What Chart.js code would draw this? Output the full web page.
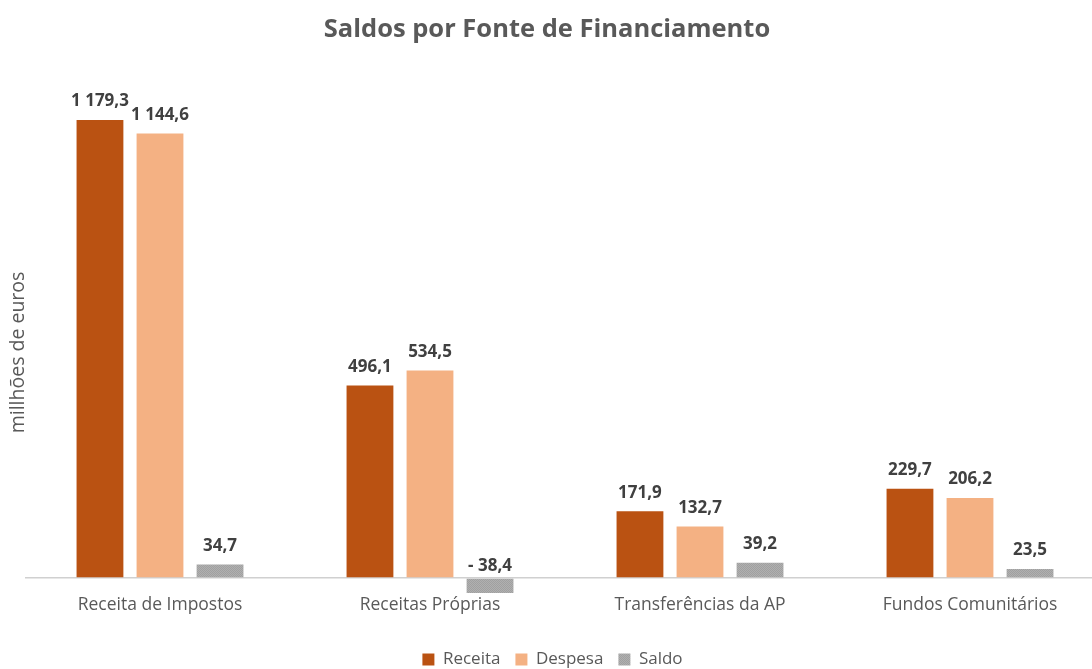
<!DOCTYPE html>
<html>
<head>
<meta charset="utf-8">
<script src="https://cdn.jsdelivr.net/npm/chart.js@4"></script>
<style>
  html, body { margin: 0; padding: 0; background: #fff; }
  #wrap { position: relative; width: 1092px; height: 669px; overflow: hidden; }
  #title {
    position: absolute; left: 0; top: 10px; width: 1094px; text-align: center;
    font: bold 25.5px "Open Sans", sans-serif; color: #595959;
  }
  #chart { position: absolute; left: 0; top: 0; }
</style>
</head>
<body>
<div id="wrap">
  <canvas id="chart" width="1105" height="678"></canvas>
  <div id="title">Saldos por Fonte de Financiamento</div>
</div>
<script>
// === Data ===
const categories = ['Receita de Impostos', 'Receitas Próprias', 'Transferências da AP', 'Fundos Comunitários'];
const receita = [1179.3, 496.1, 171.9, 229.7];
const despesa = [1144.6, 534.5, 132.7, 206.2];
const saldo = [34.7, -38.4, 39.2, 23.5];

// little speckled fill for the Saldo bars
function speckle() {
  const c = document.createElement('canvas');
  c.width = 2; c.height = 2;
  const g = c.getContext('2d');
  g.fillStyle = '#b0b0b0'; g.fillRect(0, 0, 2, 2);
  g.fillStyle = '#a0a0a0'; g.fillRect(0, 0, 1, 1); g.fillRect(1, 1, 1, 1);
  return g.createPattern(c, 'repeat');
}

function fmt(v) {
  const s = Math.abs(v).toFixed(1).split('.');
  const int = s[0].replace(/\B(?=(\d{3})+(?!\d))/g, ' ');
  return (v < 0 ? '- ' : '') + int + ',' + s[1];
}

// === Value labels ===
const valueLabels = {
  id: 'valueLabels',
  afterDatasetsDraw(chart) {
    const ctx = chart.ctx;
    const zeroY = chart.scales.y.getPixelForValue(0);
    ctx.save();
    ctx.font = 'bold 17px "Open Sans", sans-serif';
    ctx.fillStyle = '#404040';
    ctx.textAlign = 'center';
    ctx.textBaseline = 'bottom';
    chart.data.datasets.forEach((ds, i) => {
      chart.getDatasetMeta(i).data.forEach((bar, j) => {
        const v = ds.data[j];
        // negative values sit just above the zero line
        const y = v < 0 ? zeroY - 3 : bar.y - 10;
        ctx.fillText(fmt(v), bar.x, y);
      });
    });
    ctx.restore();
  }
};

const ctx = document.getElementById('chart').getContext('2d');
const chart = new Chart(ctx, {
  type: 'bar',
  data: {
    labels: categories,
    datasets: [
      { label: 'Receita', data: receita, backgroundColor: '#BA5212' },
      { label: 'Despesa', data: despesa, backgroundColor: '#F4B183' },
      { label: 'Saldo', data: saldo, backgroundColor: speckle() }
    ]
  },
  options: {
    responsive: false,
    animation: false,
    layout: { padding: { top: 112, left: 0, right: 0, bottom: 0 } },
    datasets: { bar: { categoryPercentage: 0.667, barPercentage: 0.78 } },
    plugins: {
      legend: {
        position: 'bottom',
        labels: {
          boxWidth: 12, boxHeight: 12, padding: 15,
          color: '#595959',
          font: { family: '"Open Sans", sans-serif', size: 17 }
        }
      },
      tooltip: { enabled: false }
    },
    scales: {
      x: {
        grid: { display: false, drawTicks: false },
        border: { display: false },
        ticks: {
          color: '#595959', padding: 2,
          font: { family: '"Open Sans", sans-serif', size: 17.5 }
        },
        afterFit: s => { s.height += 18; }
      },
      y: {
        min: -38.4, max: 1200,
        ticks: { display: false, stepSize: 38.4 },
        border: { display: false },
        grid: {
          drawTicks: false,
          color: c => c.tick.value === 0 ? '#d0d0d0' : 'rgba(0,0,0,0)',
          lineWidth: 1.5
        },
        title: {
          display: true, text: 'millhões de euros', color: '#595959',
          padding: { top: 9, bottom: -3.5 },
          font: { family: '"Open Sans", sans-serif', size: 19.5, lineHeight: 1 }
        }
      }
    }
  },
  plugins: [valueLabels]
});
</script>
</body>
</html>
